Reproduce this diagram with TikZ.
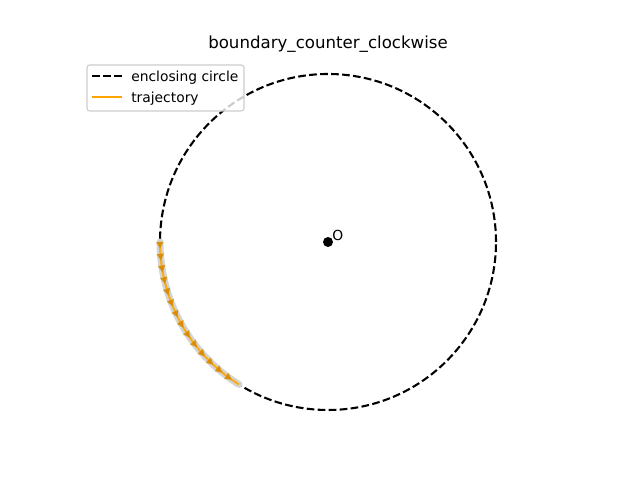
\documentclass[tikz,border=0pt]{standalone}
\usepackage{fontspec}
\setmainfont{DejaVu Sans}
\usetikzlibrary{decorations.markings,arrows.meta}
\definecolor{mplorange}{HTML}{FFA500}
\definecolor{halo}{HTML}{D4D4D4}
\tikzset{
  circ/.style={black, line width=1.5pt, dash pattern=on 5.55pt off 2.4pt},
  traj/.style={mplorange, line width=1.5pt},
  trajmark/.style={postaction={decorate, decoration={markings,
     mark=between positions 0.04 and 0.99 step 0.07 with {\arrow[mplorange!85!black, opacity=0.85]{Triangle[width=5pt,length=5pt]}}}}},
  legendbox/.style={draw=black!20, fill=white, fill opacity=0.8, rounded corners=2pt, line width=0.8pt},
  lbl/.style={font=\fontsize{10}{12}\selectfont, inner sep=0pt, anchor=west},
}
\begin{document}
\begin{tikzpicture}[x=0.01in,y=0.01in]
\useasboundingbox (0,0) rectangle (640,480);
\coordinate (O) at (328,238);
\draw[circ] (O) circle[radius=168];
\draw[halo, line width=5pt, line cap=round] (160,238) arc[start angle=180, end angle=238, radius=168];
\draw[traj, opacity=0.85, trajmark] (160,238) arc[start angle=180, end angle=238, radius=168];
\fill[black] (O) circle[radius=5];
\node[lbl] (olab) at (332,245) {O};
\node[font=\fontsize{12}{14}\selectfont, inner sep=0pt] (title) at (328,436) {boundary\_counter\_clockwise};
\draw[legendbox] (87,369) rectangle (244,415);
\coordinate (l1a) at (92,404); \coordinate (l1b) at (122,404);
\coordinate (l2a) at (92,383); \coordinate (l2b) at (122,383);
\draw[circ] (l1a) -- (l1b);
\draw[traj] (l2a) -- (l2b);
\node[lbl] (t1) at (131,402) {enclosing circle};
\node[lbl] (t2) at (131,381) {trajectory};
\end{tikzpicture}
\end{document}
